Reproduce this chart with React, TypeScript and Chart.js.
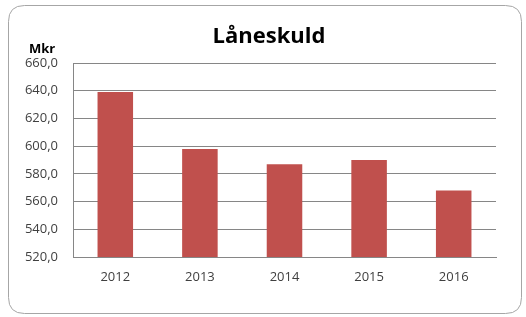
import React, { useEffect, useRef } from "react";
import { Chart, registerables } from "chart.js";

Chart.register(...registerables);

const categories = ["2012", "2013", "2014", "2015", "2016"];
const values = [639, 598, 587, 590, 568];
const yMin = 520;
const yMax = 660;
const yStep = 20;
const titleText = "Låneskuld";
const unitText = "Mkr";

const FONT = "'Open Sans', 'Liberation Sans', sans-serif";

const decorPlugin = {
  id: "decor",
  beforeDraw(chart: any) {
    const ctx = chart.ctx;
    ctx.save();
    ctx.fillStyle = "#ffffff";
    ctx.fillRect(0, 0, chart.width, chart.height);
    const x = 8.5, y = 5.5, w = 513, h = 308, r = 16;
    ctx.beginPath();
    ctx.moveTo(x + r, y);
    ctx.lineTo(x + w - r, y);
    ctx.quadraticCurveTo(x + w, y, x + w, y + r);
    ctx.lineTo(x + w, y + h - r);
    ctx.quadraticCurveTo(x + w, y + h, x + w - r, y + h);
    ctx.lineTo(x + r, y + h);
    ctx.quadraticCurveTo(x, y + h, x, y + h - r);
    ctx.lineTo(x, y + r);
    ctx.quadraticCurveTo(x, y, x + r, y);
    ctx.closePath();
    ctx.strokeStyle = "#a6a6a6";
    ctx.lineWidth = 1;
    ctx.stroke();
    ctx.restore();
  },
  afterDraw(chart: any) {
    const ctx = chart.ctx;
    ctx.save();
    ctx.fillStyle = "#000000";
    ctx.textAlign = "center";
    ctx.textBaseline = "alphabetic";
    ctx.font = `bold 22px ${FONT}`;
    ctx.fillText(titleText, 269, 43);
    ctx.font = `bold 13px ${FONT}`;
    ctx.fillText(unitText, 42, 53);
    ctx.restore();
  },
};

export default function App() {
  const ref = useRef<HTMLCanvasElement | null>(null);
  useEffect(() => {
    document.body.style.margin = "0";
    const chart = new Chart(ref.current as HTMLCanvasElement, {
      type: "bar",
      data: {
        labels: categories,
        datasets: [
          {
            data: values,
            backgroundColor: "#C0504D",
            borderWidth: 0,
            categoryPercentage: 1,
            barPercentage: 0.42,
          },
        ],
      },
      options: {
        animation: false,
        responsive: false,
        devicePixelRatio: 1,
        layout: { padding: { left: 8, right: 30, top: 63, bottom: 0 } },
        plugins: {
          legend: { display: false },
          title: { display: false },
          tooltip: { enabled: false },
        },
        scales: {
          x: {
            grid: { display: false, drawTicks: false },
            border: { display: true, color: "#868686", width: 1 },
            ticks: { color: "#404040", font: { family: FONT, size: 13 }, padding: 12 },
            afterFit(scale: any) {
              scale.height = 60;
            },
          },
          y: {
            min: yMin,
            max: yMax,
            grid: { color: "#868686", drawTicks: false, lineWidth: 1 },
            border: { display: true, color: "#868686", width: 1 },
            ticks: {
              stepSize: yStep,
              color: "#404040",
              font: { family: FONT, size: 13 },
              padding: 15,
              callback: (v: any) => Number(v).toFixed(1).replace(".", ","),
            },
            afterFit(scale: any) {
              scale.width = 65;
            },
          },
        },
      },
      plugins: [decorPlugin],
    });
    return () => chart.destroy();
  }, []);
  return (
    <div style={{ position: "fixed", left: 0, top: 0, width: 526, height: 317 }}>
      <canvas ref={ref} width={526} height={317} style={{ width: 526, height: 317 }} />
    </div>
  );
}
